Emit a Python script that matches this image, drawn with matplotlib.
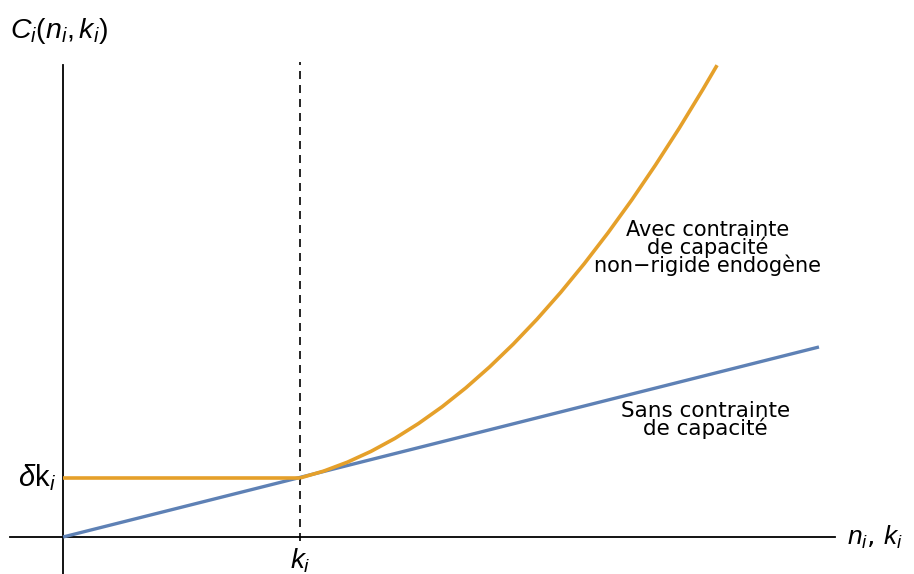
import numpy as np
import matplotlib.pyplot as plt

plt.rcParams['mathtext.fontset'] = 'custom'
plt.rcParams['mathtext.it'] = 'Liberation Sans:italic'
plt.rcParams['mathtext.rm'] = 'Liberation Sans'
plt.rcParams['mathtext.sf'] = 'Liberation Sans'

# values (n in units of k_i, C in units of delta*k_i)
n_lin = [0.0, 3.19]
c_lin = [0.0, 3.22]

n_flat = [0.0, 1.0]
c_flat = [1.0, 1.0]

n_curve = [1.0, 1.1, 1.2, 1.3, 1.4, 1.5, 1.6, 1.7, 1.8, 1.9, 2.0,
           2.1, 2.2, 2.3, 2.4, 2.5, 2.6, 2.7, 2.76]
c_curve = [1.0, 1.117, 1.268, 1.452, 1.67, 1.923, 2.208, 2.528, 2.882, 3.269, 3.69,
           4.145, 4.634, 5.156, 5.712, 6.303, 6.926, 7.584, 7.995]

k_pos = 1.0
blue = '#5E81B5'
orange = '#E5A02A'

fig = plt.figure(figsize=(9.14, 5.74), dpi=100)
ax = fig.add_axes([0, 0, 1, 1])
ax.set_xlim(-0.266, 3.591)
ax.set_ylim(-0.627, 9.10)
ax.axis('off')

# axes drawn by hand, the way the reference shows them
ax.plot([-0.224, 3.257], [0, 0], color='black', lw=1.3)
ax.plot([0, 0], [-0.7, 8.0], color='black', lw=1.3)
ax.plot([k_pos, k_pos], [-0.06, 8.05], color='black', lw=1.2, ls=(0, (4.8, 3.6)))

ax.plot(n_lin, c_lin, color=blue, lw=2.4, solid_capstyle='butt')
ax.plot(n_flat, c_flat, color=orange, lw=2.6, solid_capstyle='butt')
ax.plot(n_curve, c_curve, color=orange, lw=2.6, solid_capstyle='butt')

ax.text(-0.225, 8.58, r'$C_i(n_i,k_i)$', fontsize=20.5, ha='left', va='center')
ax.text(-0.03, 1.0, r'$\delta\mathrm{k}_i$', fontsize=21, ha='right', va='center')
ax.text(k_pos, -0.41, r'$k_i$', fontsize=20, ha='center', va='center')
ax.text(3.31, 0.0, r'$n_i$, $k_i$', fontsize=19, ha='left', va='center')

ax.text(2.72, 4.9, 'Avec contrainte\nde capacité\nnon\u2212rigide endogène',
        fontsize=15, family='DejaVu Sans', ha='center', va='center', linespacing=0.8)
ax.text(2.71, 1.98, 'Sans contrainte\nde capacité',
        fontsize=15.5, family='DejaVu Sans', ha='center', va='center', linespacing=0.8)

fig.savefig('out.png', dpi=100)
